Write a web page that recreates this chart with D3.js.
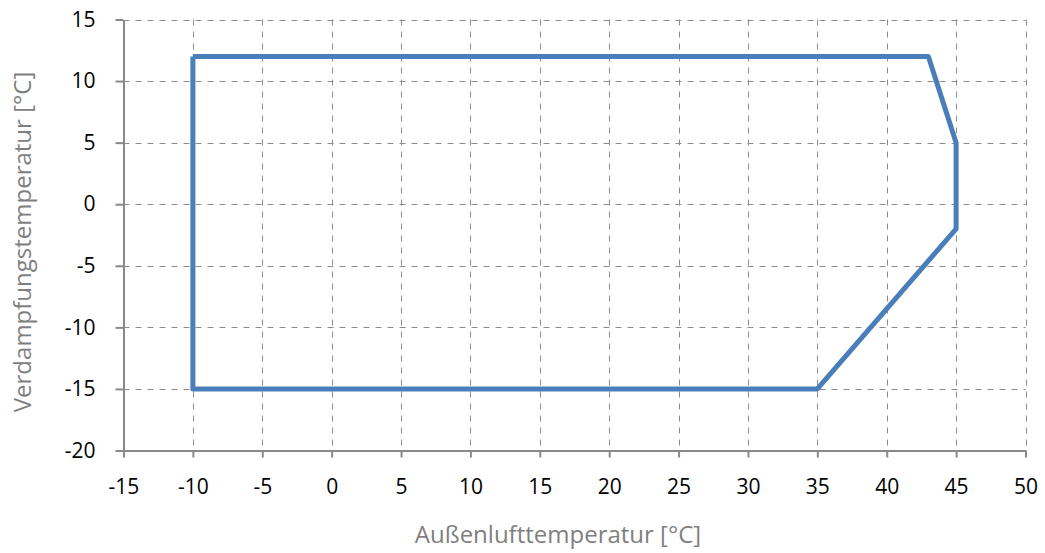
<!DOCTYPE html>
<html>
<head>
<meta charset="utf-8">
<script src="https://cdn.jsdelivr.net/npm/d3@7"></script>
<style>
  body { margin: 0; background: #fff; }
  svg { display: block; font-family: "Open Sans", "Noto Sans", sans-serif; }
</style>
</head>
<body>
<script>
// Einsatzgrenze (Außenluft vs. Verdampfung)
var outsideTemp = [-10, 43, 45, 45, 35, -10, -10];
var evapTemp    = [12, 12, 5, -2, -15, -15, 12];
var xTicks = [-15, -10, -5, 0, 5, 10, 15, 20, 25, 30, 35, 40, 45, 50];
var yTicks = [-20, -15, -10, -5, 0, 5, 10, 15];

var w = 1045, h = 553;
var plotLeft = 123.5, plotRight = 1025.5, plotTop = 19.5, plotBottom = 450.5;

var svg = d3.select("body").append("svg")
  .attr("width", w)
  .attr("height", h);

var xScale = d3.scaleLinear().domain([-15, 50]).range([plotLeft, plotRight]);
var yScale = d3.scaleLinear().domain([-20, 15]).range([plotBottom, plotTop]);

// grid
svg.append("g").selectAll("line")
  .data(xTicks.filter(function(d) { return d > -15; }))
  .enter().append("line")
  .attr("x1", function(d) { return Math.round(xScale(d)) + 0.5; })
  .attr("x2", function(d) { return Math.round(xScale(d)) + 0.5; })
  .attr("y1", plotTop).attr("y2", plotBottom)
  .attr("stroke", "#8c8c8c").attr("stroke-width", 1)
  .attr("stroke-dasharray", "6,6");

svg.append("g").selectAll("line")
  .data(yTicks.filter(function(d) { return d > -20; }))
  .enter().append("line")
  .attr("y1", function(d) { return Math.round(yScale(d)) + 0.5; })
  .attr("y2", function(d) { return Math.round(yScale(d)) + 0.5; })
  .attr("x1", plotLeft).attr("x2", plotRight)
  .attr("stroke", "#8c8c8c").attr("stroke-width", 1)
  .attr("stroke-dasharray", "6,6");

// axes
var xAxis = d3.axisBottom(xScale).tickValues(xTicks).tickSize(7).tickSizeOuter(0)
  .tickPadding(22).tickFormat(String);
var yAxis = d3.axisLeft(yScale).tickValues(yTicks).tickSize(8).tickSizeOuter(0)
  .tickPadding(20).tickFormat(String);

var gx = svg.append("g").attr("transform", "translate(0," + plotBottom + ")").call(xAxis);
var gy = svg.append("g").attr("transform", "translate(" + plotLeft + ",0)").call(yAxis);

[gx, gy].forEach(function(g) {
  g.select(".domain").attr("stroke", "#898989").attr("stroke-width", 2);
  g.selectAll(".tick line").attr("stroke", "#898989").attr("stroke-width", 2);
  g.selectAll(".tick text")
    .attr("fill", "#000")
    .attr("font-size", "21px")
    .attr("font-family", "'Open Sans', 'Noto Sans', sans-serif");
});

// envelope line
var line = d3.line()
  .x(function(d) { return xScale(d[0]); })
  .y(function(d) { return yScale(d[1]); });

svg.append("path")
  .datum(d3.zip(outsideTemp, evapTemp))
  .attr("d", line)
  .attr("fill", "none")
  .attr("stroke", "#4a7ebb")
  .attr("stroke-width", 5)
  .attr("stroke-linejoin", "round");

// axis titles
svg.append("text")
  .attr("x", 558)
  .attr("y", 543)
  .attr("text-anchor", "middle")
  .attr("font-size", "24px")
  .attr("fill", "#7f7f7f")
  .text("Außenlufttemperatur [°C]");

svg.append("text")
  .attr("transform", "translate(31,242) rotate(-90)")
  .attr("text-anchor", "middle")
  .attr("font-size", "24px")
  .attr("fill", "#7f7f7f")
  .text("Verdampfungstemperatur [°C]");
</script>
</body>
</html>
